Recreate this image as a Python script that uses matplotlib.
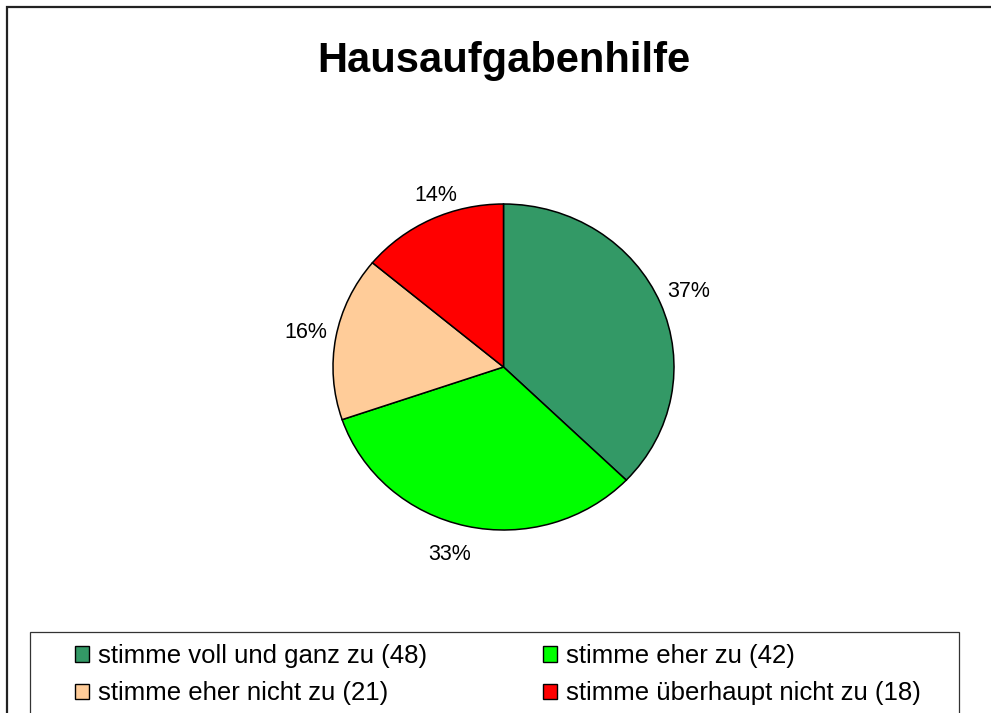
import matplotlib
matplotlib.use('Agg')
import matplotlib.pyplot as plt
from matplotlib.patches import Patch, Rectangle
from matplotlib.transforms import offset_copy

plt.rcParams['font.family'] = ['Liberation Sans', 'DejaVu Sans']

# data
categories = ['stimme voll und ganz zu', 'stimme eher zu', 'stimme eher nicht zu', 'stimme überhaupt nicht zu']
counts = [48, 42, 21, 18]
colors = ['#339966', '#00FF00', '#FFCC99', '#FF0000']
title = 'Hausaufgabenhilfe'

W, H = 991, 713
fig = plt.figure(figsize=(W / 100, H / 100), dpi=100)

def fx(x):
    return x / W

def fy(y):
    return 1 - y / H

# outer frame (cut off on right and bottom like the screenshot)
fig.patches.append(Rectangle((fx(7), fy(800)), fx(1100), (800 - 7) / H, transform=fig.transFigure,
                             fill=False, edgecolor='#222222', linewidth=1.6))

# pie (slightly squashed like the original)
cx, cy, rx, ry = 503.5, 367, 170.5, 163
ax = fig.add_axes([fx(cx - rx), fy(cy + ry), 2 * rx / W, 2 * ry / H])
wedges, texts, autotexts = ax.pie(counts, colors=colors, startangle=90, counterclock=False,
                                  autopct='%1.0f%%', pctdistance=1.18,
                                  wedgeprops=dict(edgecolor='black', linewidth=1.1),
                                  textprops=dict(fontsize=15.5, color='black'))
ax.set_aspect('auto')
ax.set_xlim(-1, 1)
ax.set_ylim(-1, 1)
ax.axis('off')

# nudge labels a bit toward where excel put them (points)
nudges = [(0, 0), (-7, 0), (0, 0), (13, -2)]
for t, (dx, dy) in zip(autotexts, nudges):
    t.set_transform(offset_copy(ax.transData, fig=fig, x=dx, y=dy, units='points'))

fig.text(fx(503.5), fy(72), title, ha='center', va='baseline', fontsize=30, fontweight='bold')

# legend box
fig.patches.append(Rectangle((fx(29.5), fy(800)), fx(959 - 29.5), (800 - 632) / H,
                             transform=fig.transFigure, fill=False, edgecolor='#333333', linewidth=0.9))

handles = [Patch(facecolor=c, edgecolor='black', linewidth=1.0) for c in colors]
labels = [f'{c} ({n})' for c, n in zip(categories, counts)]
order = [0, 2, 1, 3]  # row-major filling like excel
fig.legend([handles[i] for i in order], [labels[i] for i in order], ncol=2, loc='upper left',
           bbox_to_anchor=(fx(75), fy(644)),
           frameon=False, fontsize=18.5, borderpad=0, borderaxespad=0,
           handlelength=0.55, handleheight=0.55, handletextpad=0.35,
           columnspacing=4.5, labelspacing=0.52)

plt.savefig('out.png', dpi=100)
